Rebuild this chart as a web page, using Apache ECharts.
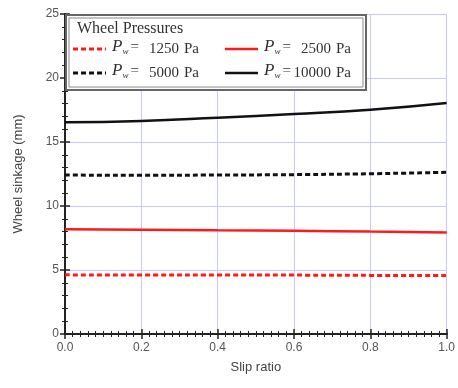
<!DOCTYPE html>
<html>
<head>
<meta charset="utf-8">
<script src="https://cdn.jsdelivr.net/npm/echarts@6/dist/echarts.min.js"></script>
<style>
html, body { margin: 0; padding: 0; background: #fff; }
#main { width: 458px; height: 388px; }
</style>
</head>
<body>
<div id="main"></div>
<script>
var slip = [0.0, 0.2, 0.4, 0.6, 0.8, 1.0];
var p1250 = [4.62, 4.61, 4.60, 4.60, 4.58, 4.57];
var p2500 = [8.18, 8.15, 8.10, 8.06, 8.00, 7.93];
var p5000 = [12.42, 12.40, 12.42, 12.45, 12.52, 12.63];
var p10000 = [16.55, 16.65, 16.90, 17.18, 17.52, 18.05];
var names = ['1250', '2500', '5000', '10000'];

function pairs(ys) {
  return slip.map(function (x, i) { return [x, ys[i]]; });
}

var serif = 'Liberation Serif';
var ink = '#333';
var rich = {
  p: { fontFamily: serif, fontStyle: 'italic', fontSize: 17, fill: ink },
  w: { fontFamily: serif, fontStyle: 'italic', fontSize: 9, fill: ink, padding: [9, 2, 0, 0] },
  e: { fontFamily: serif, fontSize: 15, fill: ink }
};

var dash = [5, 3];
var styles = [
  { color: '#ff1a1a', width: 3, type: dash },
  { color: '#ff1a1a', width: 2.5, type: 'solid' },
  { color: '#111', width: 3, type: dash },
  { color: '#111', width: 2.5, type: 'solid' }
];
var datasets = [p1250, p2500, p5000, p10000];

// legend cells: [x of key line, y of row]
var cells = [[73, 49], [225, 49], [73, 73], [225, 73]];
var legendItems = [];
names.forEach(function (n, i) {
  var s = styles[i], x = cells[i][0], y = cells[i][1];
  legendItems.push({
    type: 'line', z: 102,
    shape: { x1: x, y1: y, x2: x + 33, y2: y },
    style: { stroke: s.color, lineWidth: s.width, lineDash: s.type === 'solid' ? null : dash }
  });
  legendItems.push({
    type: 'text', z: 102, x: x + 39, y: y - 11,
    style: { text: '{p|P}{w|w}{e|=}', rich: rich }
  });
  legendItems.push({
    type: 'text', z: 102, x: x + 106, y: y,
    style: { text: n, font: '15px "Liberation Serif"', fill: ink, align: 'right', verticalAlign: 'middle' }
  });
  legendItems.push({
    type: 'text', z: 102, x: x + 111, y: y,
    style: { text: 'Pa', font: '15px "Liberation Serif"', fill: ink, align: 'left', verticalAlign: 'middle' }
  });
});

var axisCommon = {
  axisLine: { show: true, lineStyle: { color: '#222', width: 2 } },
  axisTick: { show: true, inside: true, length: 5, lineStyle: { color: '#222', width: 1.5 } }
};

var chart = echarts.init(document.getElementById('main'));
chart.setOption({
  animation: false,
  grid: { left: 65, right: 8, top: 14, bottom: 54 },
  xAxis: [{
    type: 'value', min: 0, max: 1, interval: 0.2,
    name: 'Slip ratio', nameLocation: 'middle', nameGap: 27,
    nameTextStyle: { fontFamily: 'Liberation Sans', fontSize: 13, color: '#444' },
    axisLine: axisCommon.axisLine, axisTick: axisCommon.axisTick,
    minorTick: { show: true, splitNumber: 10, length: 3, lineStyle: { color: '#222' } },
    axisLabel: { formatter: function (v) { return v.toFixed(1); }, fontFamily: 'Liberation Sans', fontSize: 12, color: '#555', margin: 8 },
    splitLine: { show: true, lineStyle: { color: '#c8c8ff', width: 1 } }
  }, {
    type: 'value', min: 0, max: 1, interval: 0.2, position: 'top',
    axisLine: axisCommon.axisLine, axisTick: axisCommon.axisTick,
    minorTick: { show: true, splitNumber: 10, length: 3, lineStyle: { color: '#222' } },
    axisLabel: { show: false },
    splitLine: { show: false }
  }],
  yAxis: [{
    type: 'value', min: 0, max: 25, interval: 5,
    name: 'Wheel sinkage (mm)', nameLocation: 'middle', nameGap: 40,
    nameTextStyle: { fontFamily: 'Liberation Sans', fontSize: 13, color: '#444' },
    axisLine: axisCommon.axisLine, axisTick: axisCommon.axisTick,
    minorTick: { show: true, splitNumber: 5, length: 3, lineStyle: { color: '#222' } },
    axisLabel: { fontFamily: 'Liberation Sans', fontSize: 12, color: '#555', margin: 6 },
    splitLine: { show: true, lineStyle: { color: '#c8c8ff', width: 1 } }
  }, {
    type: 'value', min: 0, max: 25, interval: 5, position: 'right',
    axisLine: axisCommon.axisLine, axisTick: axisCommon.axisTick,
    minorTick: { show: true, splitNumber: 5, length: 3, lineStyle: { color: '#222' } },
    axisLabel: { show: false },
    splitLine: { show: false }
  }],
  graphic: [
    { type: 'rect', z: 100, shape: { x: 66, y: 15, width: 300, height: 75 },
      style: { fill: '#fff', stroke: '#666', lineWidth: 2 } },
    { type: 'rect', z: 101, shape: { x: 69, y: 18, width: 294, height: 69 },
      style: { fill: 'none', stroke: '#888', lineWidth: 1 } },
    { type: 'text', z: 102, x: 77, y: 21,
      style: { text: 'Wheel Pressures', font: '16px "Liberation Serif"', fill: ink } }
  ].concat(legendItems),
  series: names.map(function (n, i) {
    return {
      name: n, type: 'line', smooth: true, showSymbol: false, data: pairs(datasets[i]),
      lineStyle: styles[i], itemStyle: { color: styles[i].color }
    };
  })
});
</script>
</body>
</html>
